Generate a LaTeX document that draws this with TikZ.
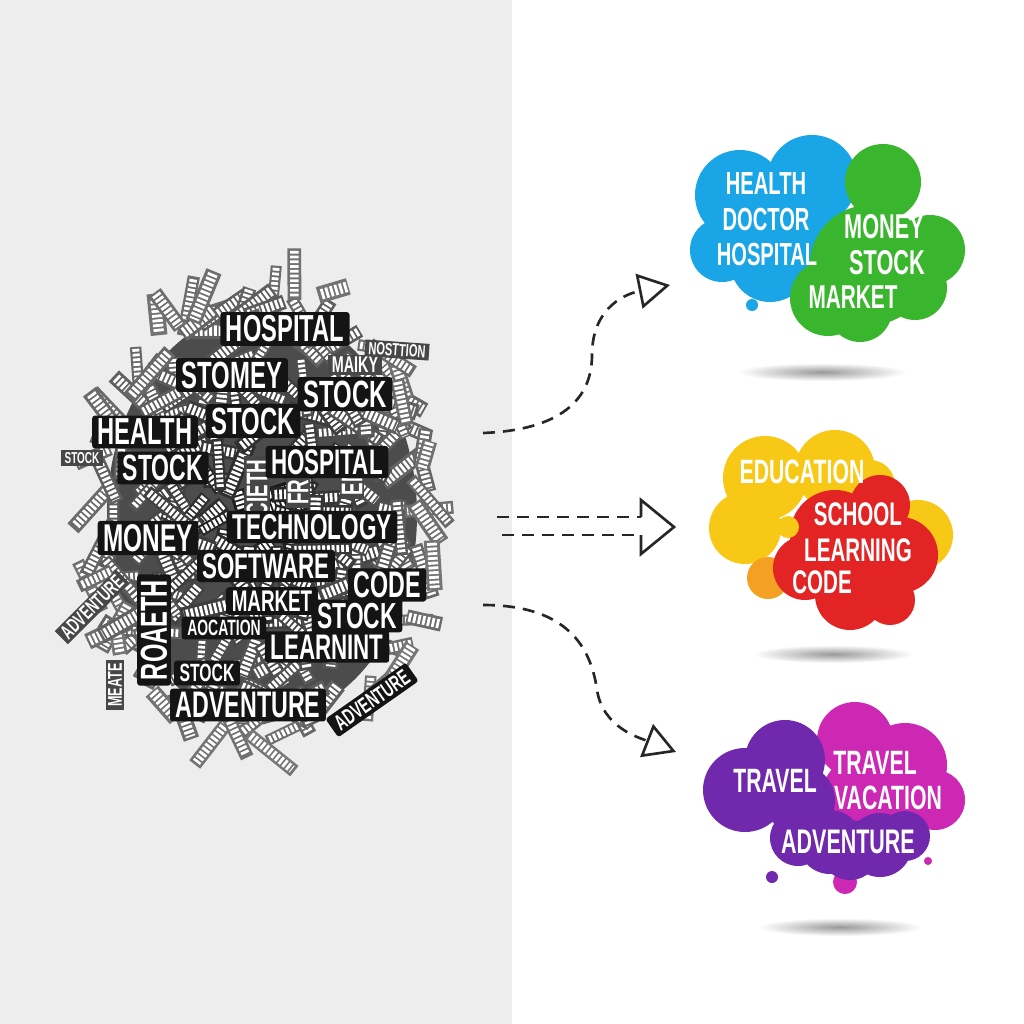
\documentclass[tikz,border=0pt]{standalone}
\usepackage{graphicx}
\usepackage{fontspec}
\setmainfont{Liberation Sans}
\newfontfamily\cond[FakeStretch=0.63]{Liberation Sans}
\usetikzlibrary{arrows.meta}
\definecolor{panelgray}{RGB}{237,237,237}
\definecolor{skyblue}{RGB}{25,165,230}
\definecolor{leafgreen}{RGB}{58,182,46}
\definecolor{sunyellow}{RGB}{248,200,22}
\definecolor{sunorange}{RGB}{243,160,35}
\definecolor{brightred}{RGB}{226,36,36}
\definecolor{deeppurple}{RGB}{112,40,172}
\definecolor{hotpink}{RGB}{204,40,180}
\newcommand\slim[1]{\scalebox{0.63}[1]{#1}}

\tikzset{
  sz/.style={font=\cond\bfseries\fontsize{#1}{#1}\selectfont},
  csz/.style={font=\bfseries\fontsize{#1}{#1}\selectfont},
  bigword/.style={fill=black!92, text=white, inner xsep=1.6pt, inner ysep=1pt, rounded corners=0.8pt},
  smallword/.style={fill=black!72, text=white, inner xsep=1pt, inner ysep=0.6pt},
  cloudtext/.style={text=white, inner sep=0pt},
  flow/.style={black!85, line width=0.75pt, dash pattern=on 3.4pt off 2.3pt},
}

\begin{document}
\begin{tikzpicture}[x=0.1mm, y=-0.1mm]
  \useasboundingbox (0,0) rectangle (1024,1024);
  \fill[panelgray] (0,0) rectangle (512,1024);
  \fill[white] (512,0) rectangle (1024,1024);

  % word cloud: dark core and scraps
  \fill[black!70] (262,515) ellipse (155 and 205);
  \pgfmathsetseed{314}
  \foreach \i in {1,...,260}{
    \pgfmathsetmacro\ang{360*rnd}
    \pgfmathsetmacro\rr{sqrt(rnd)}
    \pgfmathsetmacro\cx{262+182*\rr*cos(\ang)}
    \pgfmathsetmacro\cy{512+242*\rr*sin(\ang)}
    \pgfmathsetmacro\tilt{180*rnd}
    \pgfmathsetmacro\hl{14+17*rnd}
    \pgfmathsetmacro\dx{\hl*cos(\tilt)}
    \pgfmathsetmacro\dy{\hl*sin(\tilt)}
    \pgfmathsetmacro\bw{(11+6*rnd)*0.2845}
    \pgfmathsetmacro\iw{0.62*\bw}
    \pgfmathsetmacro\tone{90-38*\rr+6*rnd}
    \draw[black!\tone, line width=\bw pt] (\cx-\dx,\cy-\dy) -- (\cx+\dx,\cy+\dy);
    \draw[white, line width=\iw pt, dash pattern=on 0.8pt off 0.55pt] (\cx-0.9*\dx,\cy-0.9*\dy) -- (\cx+0.9*\dx,\cy+0.9*\dy);
  }

  % legible words
  \node[smallword, sz=6.5] (maiky) at (355,365) {MAIKY};
  \node[smallword, sz=5, rotate=-4] (nosttion) at (397,350) {NOSTTION};
  \node[smallword, sz=4.5] (stocktiny) at (82,458) {STOCK};
  \node[smallword, sz=5.8, rotate=45] (advleft) at (92,607) {ADVENTURE};
  \node[smallword, sz=5.7, rotate=90] (meate) at (115,685) {MEATE};
  \node[smallword, sz=8.5, rotate=90] (cieth) at (257,488) {CIETH};
  \node[smallword, sz=8.5, rotate=90] (fr) at (298,492) {FR};
  \node[smallword, sz=8.5, rotate=90] (en) at (352,482) {EN};
  \node[bigword, sz=10.7] (hosp1) at (285,329) {HOSPITAL};
  \node[bigword, sz=10.8] (stomey) at (232,375) {STOMEY};
  \node[bigword, sz=10.8] (stock1) at (345,394) {STOCK};
  \node[bigword, sz=10.8] (stock2) at (253,421) {STOCK};
  \node[bigword, sz=10.7] (health) at (145,432) {HEALTH};
  \node[bigword, sz=10.4] (stock3) at (163,468) {STOCK};
  \node[bigword, sz=10.1] (hosp2) at (327,462) {HOSPITAL};
  \node[bigword, sz=11] (money) at (148,538) {MONEY};
  \node[bigword, sz=10.2] (tech) at (312,527) {TECHNOLOGY};
  \node[bigword, sz=10.1] (soft) at (266,566) {SOFTWARE};
  \node[bigword, sz=10.5] (code) at (387,585) {CODE};
  \node[bigword, sz=8.5] (market) at (272,601) {MARKET};
  \node[bigword, sz=10.3] (stock4) at (357,616) {STOCK};
  \node[bigword, sz=6.3] (aocation) at (224,628) {AOCATION};
  \node[bigword, sz=10.1] (learnint) at (327,647) {LEARNINT};
  \node[bigword, sz=10.7, rotate=90] (roaeth) at (154,630) {ROAETH};
  \node[bigword, sz=7.1] (stock5) at (207,673) {STOCK};
  \node[bigword, sz=10.5] (adv1) at (248,705) {ADVENTURE};
  \node[bigword, sz=6.3, rotate=35] (adv2) at (372,700) {ADVENTURE};

  % arrows
  \coordinate (a1s) at (483,433);
  \coordinate (a1e) at (670,285);
  \draw[flow, -{Triangle[open, length=9pt, width=10pt]}] (a1s) .. controls (560,430) and (592,400) .. (592,355) .. controls (592,312) and (620,295) .. (a1e);
  \coordinate (a2a) at (497,517);
  \coordinate (a2b) at (641,517);
  \coordinate (a2c) at (502,535);
  \coordinate (a2d) at (641,535);
  \draw[flow] (a2a) -- (a2b);
  \draw[flow] (a2c) -- (a2d);
  \draw[black!85, line width=0.75pt] (a2b) -- (641,500) -- (674,527) -- (641,554) -- (a2d);
  \coordinate (a3s) at (483,605);
  \coordinate (a3e) at (676,752);
  \draw[flow, -{Triangle[open, length=9pt, width=10pt]}] (a3s) .. controls (560,605) and (590,640) .. (597,690) .. controls (603,728) and (640,738) .. (a3e);

  % cloud 1
  \shade[inner color=black!40, outer color=white] (822,372) ellipse (85 and 9);
  \fill[skyblue] (740,195) circle (45) (812,180) circle (45) (785,225) circle (38) (722,250) circle (32) (770,262) circle (40) (830,245) circle (30) (752,305) circle (6);
  \fill[leafgreen] (883,182) circle (38) (930,250) circle (35) (870,265) circle (60) (828,298) circle (38) (860,310) circle (32) (915,288) circle (32);
  \node[cloudtext, csz=9.1] (t1a) at (766,184) {\slim{HEALTH}};
  \node[cloudtext, csz=9.1] (t1b) at (766,219) {\slim{DOCTOR}};
  \node[cloudtext, csz=9.1] (t1c) at (767,254) {\slim{HOSPITAL}};
  \node[cloudtext, csz=9.8] (t1d) at (884,227) {\slim{MONEY}};
  \node[cloudtext, csz=9.8] (t1e) at (887,263) {\slim{STOCK}};
  \node[cloudtext, csz=9.4] (t1f) at (853,297) {\slim{MARKET}};

  % cloud 2
  \shade[inner color=black!40, outer color=white] (833,654) ellipse (80 and 9);
  \fill[sunyellow] (765,478) circle (42) (835,470) circle (40) (870,485) circle (25) (745,528) circle (36) (918,535) circle (35);
  \fill[sunorange] (768,578) circle (21);
  \fill[brightred] (880,505) circle (30) (835,535) circle (45) (900,555) circle (38) (805,568) circle (32) (850,595) circle (35) (890,600) circle (25);
  \fill[sunyellow] (788,527) circle (11);
  \node[cloudtext, csz=9.6] (t2a) at (802,472) {\slim{EDUCATION}};
  \node[cloudtext, csz=9.3] (t2b) at (858,514) {\slim{SCHOOL}};
  \node[cloudtext, csz=9.3] (t2c) at (858,550) {\slim{LEARNING}};
  \node[cloudtext, csz=9.3] (t2d) at (822,582) {\slim{CODE}};

  % cloud 3
  \shade[inner color=black!40, outer color=white] (840,927) ellipse (82 and 9);
  \fill[hotpink] (855,740) circle (38) (905,765) circle (42) (935,800) circle (30) (860,795) circle (38) (900,805) circle (35) (845,882) circle (12) (928,861) circle (4);
  \fill[deeppurple] (745,790) circle (42) (785,760) circle (40) (800,800) circle (35) (798,838) circle (28) (830,842) circle (32) (880,845) circle (32) (905,836) circle (25) (850,850) circle (30) (772,877) circle (6);
  \node[cloudtext, csz=9.6] (t3a) at (775,781) {\slim{TRAVEL}};
  \node[cloudtext, csz=9.6] (t3b) at (875,763) {\slim{TRAVEL}};
  \node[cloudtext, csz=9.6] (t3c) at (888,798) {\slim{VACATION}};
  \node[cloudtext, csz=9.7] (t3d) at (848,842) {\slim{ADVENTURE}};
\end{tikzpicture}
\end{document}
